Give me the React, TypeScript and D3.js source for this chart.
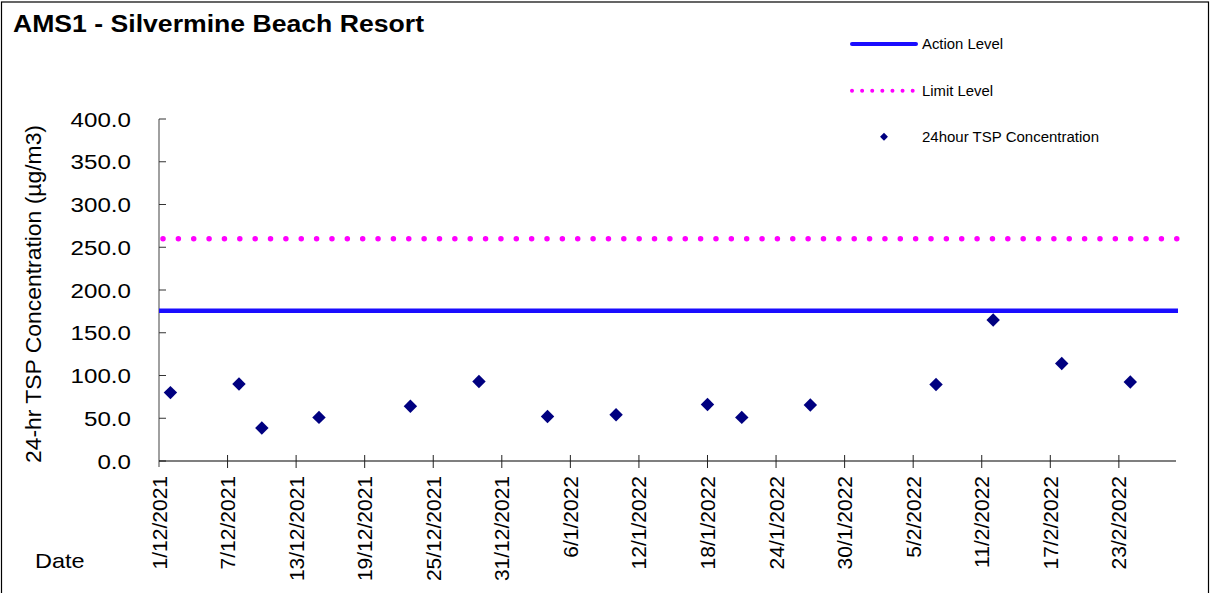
import React from "react";
import * as d3 from "d3";

const sampleDates = [
  "2/12/2021", "8/12/2021", "10/12/2021", "15/12/2021", "23/12/2021", "29/12/2021",
  "4/1/2022", "10/1/2022", "18/1/2022", "21/1/2022", "27/1/2022",
  "7/2/2022", "12/2/2022", "18/2/2022", "24/2/2022",
];
const tspValues = [80, 90, 38.6, 51, 64, 93, 52, 54, 66, 51, 65.5, 89.5, 165, 114, 92.5];

const actionLevel = 175.7;
const limitLevel = 260;

const xTickLabels = [
  "1/12/2021", "7/12/2021", "13/12/2021", "19/12/2021", "25/12/2021", "31/12/2021",
  "6/1/2022", "12/1/2022", "18/1/2022", "24/1/2022", "30/1/2022",
  "5/2/2022", "11/2/2022", "17/2/2022", "23/2/2022",
];
const yTicks = [0, 50, 100, 150, 200, 250, 300, 350, 400];
const xDomain = ["1/12/2021", "28/2/2022"];

const legendItems = ["Action Level", "Limit Level", "24hour TSP Concentration"];

const parse = (s: string) => {
  const [d, m, y] = s.split("/").map(Number);
  return new Date(Date.UTC(y, m - 1, d));
};

const FONT = "'Liberation Sans', Arial, sans-serif";

export default function App() {
  const left = 159;
  const right = 1176;
  const top = 119;
  const bottom = 461;

  const x = d3.scaleUtc().domain(xDomain.map(parse)).range([left, right]);
  const y = d3.scaleLinear().domain([0, 400]).range([bottom, top]);

  const diamond = d3.symbol().type(d3.symbolDiamond2).size(115)();
  const diamondSmall = d3.symbol().type(d3.symbolDiamond2).size(40)();

  return (
    <svg
      width={1210}
      height={593}
      style={{ position: "absolute", left: 0, top: 0, background: "#fff" }}
      fontFamily={FONT}
    >
      <rect x={1.5} y={2} width={1207} height={620} fill="#fff" stroke="#000" strokeWidth={1.2} />
      <text x={13} y={32} fontSize={23} fontWeight="bold" textLength={411} lengthAdjust="spacingAndGlyphs">
        AMS1 - Silvermine Beach Resort
      </text>

      {/* y axis */}
      <line x1={left} x2={left} y1={top} y2={467} stroke="#808080" strokeWidth={1.5} />
      {yTicks.map((t) => (
        <g key={t}>
          <line x1={left} x2={left + 7} y1={y(t)} y2={y(t)} stroke="#333" strokeWidth={1} />
          <text
            transform={`translate(131,${y(t) + 7.5}) scale(1.15,1)`}
            textAnchor="end"
            fontSize={21}
          >
            {t.toFixed(1)}
          </text>
        </g>
      ))}
      <text
        transform={`translate(41,294) rotate(-90)`}
        textAnchor="middle"
        fontSize={22}
        textLength={338}
        lengthAdjust="spacingAndGlyphs"
      >
        24-hr TSP Concentration (µg/m3)
      </text>

      {/* x axis */}
      <line x1={left} x2={right} y1={bottom} y2={bottom} stroke="#000" strokeWidth={1.2} />
      {xTickLabels.map((l, i) => {
        const xv = x(parse(l));
        return (
          <g key={l}>
            {i > 0 && <line x1={xv} x2={xv} y1={455} y2={468} stroke="#222" strokeWidth={1} />}
            <text
              transform={`translate(${xv + 7.5},476) rotate(-90)`}
              textAnchor="end"
              fontSize={21}
            >
              {l}
            </text>
          </g>
        );
      })}
      <text transform="translate(35,568) scale(1.12,1)" fontSize={21}>
        Date
      </text>

      {/* reference lines */}
      <line x1={left} x2={1178} y1={y(actionLevel)} y2={y(actionLevel)} stroke="#1a0dff" strokeWidth={4.5} />
      <line
        x1={left + 4}
        x2={1178}
        y1={y(limitLevel)}
        y2={y(limitLevel)}
        stroke="#ff00ff"
        strokeWidth={5.5}
        strokeLinecap="round"
        strokeDasharray="0.01 15.35"
      />

      {/* data */}
      {sampleDates.map((d, i) => (
        <path
          key={d}
          d={diamond!}
          transform={`translate(${x(parse(d))},${y(tspValues[i])})`}
          fill="#000080"
        />
      ))}

      {/* legend */}
      <line x1={852} x2={916} y1={44} y2={44} stroke="#1a0dff" strokeWidth={4} strokeLinecap="round" />
      <text x={922} y={49} fontSize={14} textLength={81} lengthAdjust="spacingAndGlyphs">
        {legendItems[0]}
      </text>
      <line
        x1={852}
        x2={914}
        y1={90.7}
        y2={90.7}
        stroke="#ff00ff"
        strokeWidth={4}
        strokeLinecap="round"
        strokeDasharray="0.01 10.1"
      />
      <text x={922} y={96} fontSize={14} textLength={71} lengthAdjust="spacingAndGlyphs">
        {legendItems[1]}
      </text>
      <path d={diamondSmall!} transform="translate(884,136.7)" fill="#000080" />
      <text x={922} y={142} fontSize={14} textLength={177} lengthAdjust="spacingAndGlyphs">
        {legendItems[2]}
      </text>
    </svg>
  );
}
